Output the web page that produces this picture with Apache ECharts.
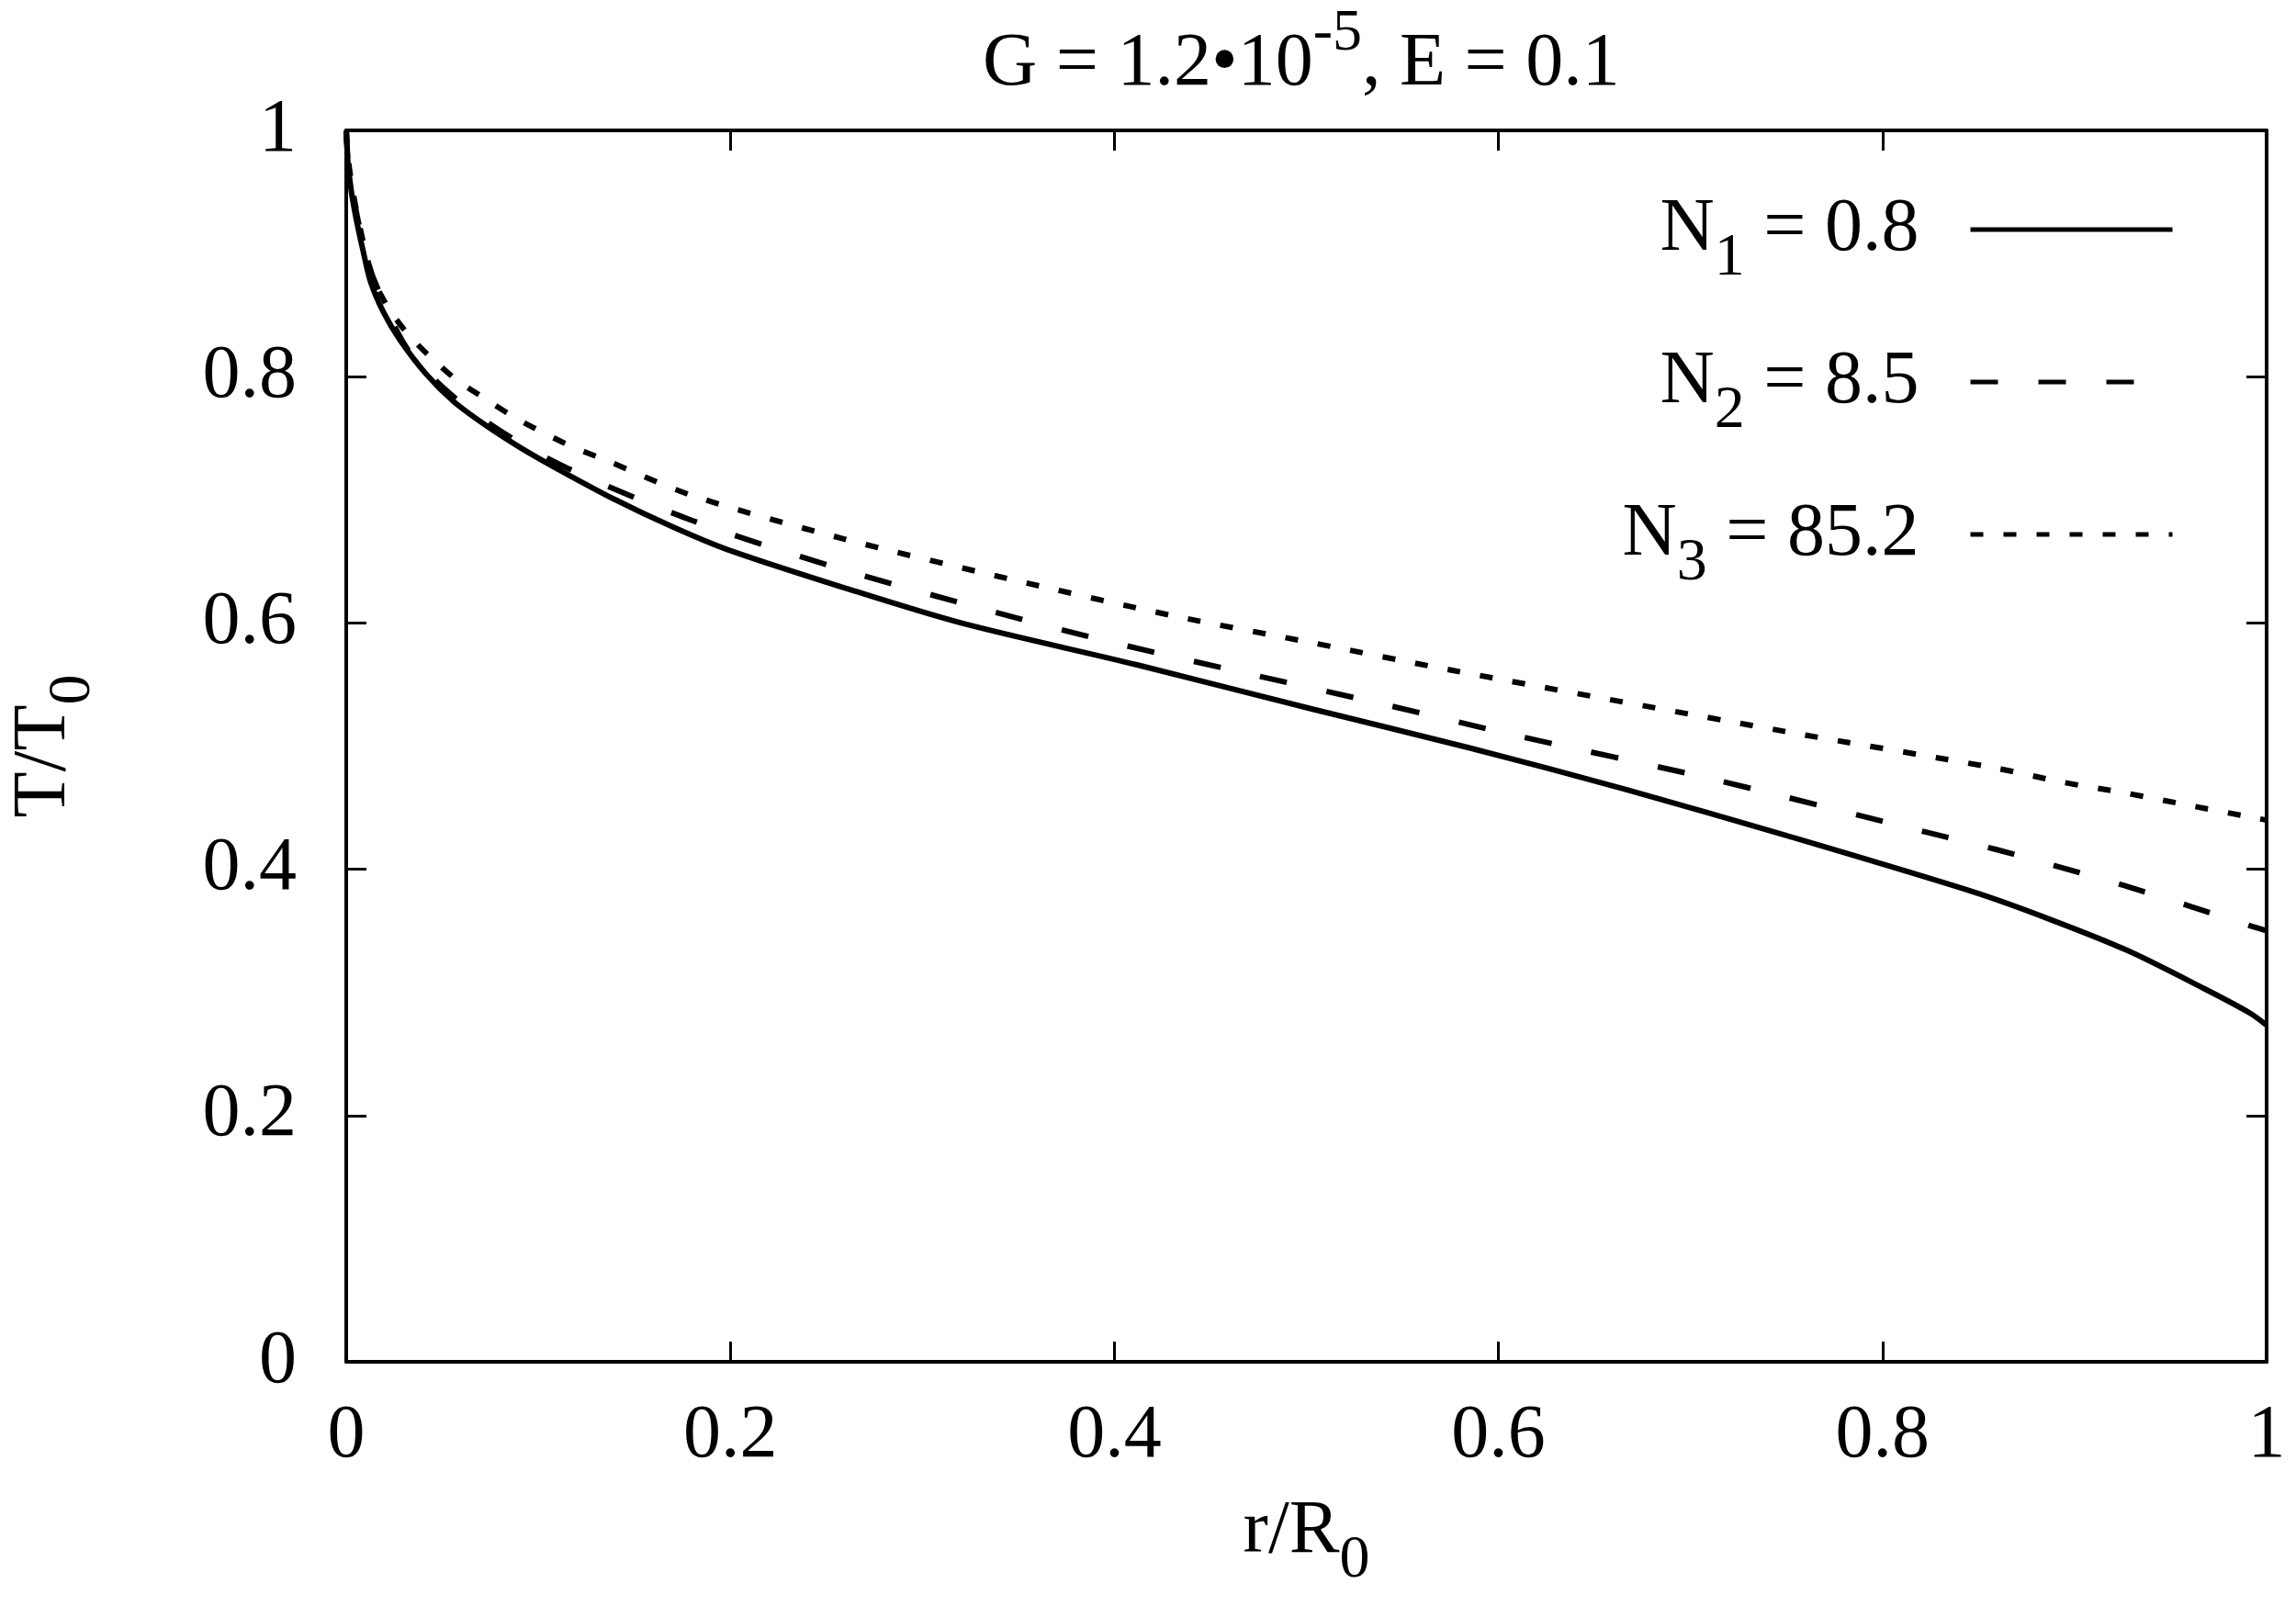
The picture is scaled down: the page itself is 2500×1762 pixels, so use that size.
<!DOCTYPE html>
<html><head><meta charset="utf-8">
<script src="https://cdn.jsdelivr.net/npm/echarts@6/dist/echarts.min.js"></script>
<style>html,body{margin:0;padding:0;background:#fff}#c{width:2500px;height:1762px}</style>
</head><body><div id="c"></div>
<script>
// ---- data ----
const xTickLabels = ['0', '0.2', '0.4', '0.6', '0.8', '1'];
const yTickLabels = ['0', '0.2', '0.4', '0.6', '0.8', '1'];

const n1R = [0, 0.0008, 0.0016, 0.0032, 0.0056, 0.0088, 0.0127, 0.0195, 0.0279, 0.0414, 0.0558, 0.0717, 0.0900, 0.1084, 0.1402, 0.1700, 0.1983, 0.2593, 0.3202, 0.4118, 0.5032, 0.585, 0.667, 0.7495, 0.8478, 0.8877, 0.9275, 0.9674, 0.9913, 1.0];
const n1T = [1.0, 0.975, 0.963, 0.945, 0.925, 0.902, 0.877, 0.852, 0.830, 0.8025, 0.780, 0.7615, 0.743, 0.7265, 0.700, 0.678, 0.6597, 0.6286, 0.600, 0.566, 0.530, 0.4985, 0.4645, 0.4275, 0.3813, 0.359, 0.334, 0.3031, 0.2832, 0.2733];

const n2R = [0, 0.0008, 0.0016, 0.0035, 0.0088, 0.0143, 0.0319, 0.0566, 0.0853, 0.1155, 0.180, 0.253, 0.326, 0.3934, 0.462, 0.540, 0.608, 0.711, 0.8236, 0.859, 0.8933, 0.9267, 0.960, 0.9929, 1.0];
const n2T = [1.0, 0.977, 0.966, 0.948, 0.908, 0.8795, 0.8224, 0.7827, 0.751, 0.7255, 0.6833, 0.646, 0.6137, 0.5863, 0.5615, 0.534, 0.509, 0.4733, 0.4298, 0.4161, 0.4013, 0.3863, 0.370, 0.3533, 0.350];

const n3R = [0, 0.0008, 0.003, 0.007, 0.01355, 0.0215, 0.0319, 0.0438, 0.0574, 0.0717, 0.0868, 0.102, 0.1179, 0.1339, 0.181, 0.259, 0.3445, 0.430, 0.503, 0.576, 0.7495, 0.8594, 0.8933, 0.9275, 0.9626, 0.996, 1.0];
const n3T = [1.0, 0.98, 0.955, 0.922, 0.882, 0.857, 0.835, 0.816, 0.7975, 0.7827, 0.7677, 0.755, 0.743, 0.733, 0.703, 0.6683, 0.636, 0.606, 0.5839, 0.5615, 0.5118, 0.482, 0.4708, 0.4616, 0.451, 0.441, 0.440];

const seriesNames = ['N1 = 0.8', 'N2 = 8.5', 'N3 = 85.2'];
const legendSub = ['1', '2', '3'];
const legendVal = [' = 0.8', ' = 8.5', ' = 85.2'];

// ---- chart ----
const FONT = 'Liberation Serif';
const FS = 82;
const zip = (a, b) => a.map((v, i) => [v, b[i]]);

const chart = echarts.init(document.getElementById('c'));

const axisCommon = {
  type: 'value', min: 0, max: 1, interval: 0.2,
  axisLine: { show: true, onZero: false, lineStyle: { color: '#000', width: 4 } },
  axisTick: { show: true, inside: true, length: 22, lineStyle: { color: '#000', width: 3 } },
  splitLine: { show: false }
};

const richMain = { fontFamily: FONT, fontSize: FS, fontWeight: 'normal', color: '#000', lineHeight: 130, verticalAlign: 'middle' };
const richSub = { fontFamily: FONT, fontSize: 66, fontWeight: 'normal', color: '#000', lineHeight: 80, verticalAlign: 'bottom' };

const option = {
  backgroundColor: '#fff',
  animation: false,
  title: {
    text: '{m|G = 1.2•10}{sup|-5}{m|, E = 0.1}',
    left: 1070,
    top: 5,
    padding: 0,
    textStyle: {
      fontWeight: 'normal',
      rich: {
        m: { fontFamily: FONT, fontSize: FS, fontWeight: 'normal', color: '#000', lineHeight: 130, verticalAlign: 'middle' },
        sup: { fontFamily: FONT, fontSize: 64, fontWeight: 'normal', color: '#000', lineHeight: 62, verticalAlign: 'top' }
      }
    }
  },
  grid: { left: 377, right: 32, top: 142, bottom: 279, containLabel: false, outerBoundsMode: 'none' },
  legend: {
    orient: 'vertical',
    right: 132,
    top: 209,
    padding: 0,
    align: 'right',
    itemWidth: 220,
    itemHeight: 2,
    itemGap: 60,
    data: seriesNames,
    itemStyle: { opacity: 0 },
    lineStyle: { width: 5, color: '#000' },
    formatter: function (name) {
      const i = seriesNames.indexOf(name);
      return '{m|N}{s|' + legendSub[i] + '}{v|' + legendVal[i] + '}';
    },
    textStyle: {
      rich: {
        m: richMain,
        s: richSub,
        v: Object.assign({}, richMain, { padding: [0, 51, 0, 0] })
      }
    }
  },
  xAxis: [
    Object.assign({}, axisCommon, {
      position: 'bottom',
      axisLabel: {
        show: true, margin: 40, fontFamily: FONT, fontSize: FS, color: '#000',
        formatter: v => xTickLabels[Math.round(v / 0.2)]
      },
      name: '{m|r/R}{s|0}',
      nameLocation: 'middle',
      nameGap: 120,
      nameTextStyle: { rich: { m: richMain, s: richSub } }
    }),
    Object.assign({}, axisCommon, { position: 'top', axisLabel: { show: false } })
  ],
  yAxis: [
    Object.assign({}, axisCommon, {
      position: 'left',
      axisLabel: {
        show: true, margin: 54, fontFamily: FONT, fontSize: FS, color: '#000',
        formatter: v => yTickLabels[Math.round(v / 0.2)]
      },
      name: '{m|T/T}{s|0}',
      nameLocation: 'middle',
      nameRotate: 90,
      nameGap: 264,
      nameTextStyle: { rich: { m: richMain, s: richSub } }
    }),
    Object.assign({}, axisCommon, { position: 'right', axisLabel: { show: false } })
  ],
  series: [
    {
      name: seriesNames[0], type: 'line', data: zip(n1R, n1T),
      symbol: 'none', showSymbol: false, smooth: 0.3,
      lineStyle: { color: '#000', width: 6, type: 'solid' }, itemStyle: { color: '#000' }
    },
    {
      name: seriesNames[1], type: 'line', data: zip(n2R, n2T),
      symbol: 'none', showSymbol: false, smooth: 0.3,
      lineStyle: { color: '#000', width: 6, type: [30, 44] }, itemStyle: { color: '#000' }
    },
    {
      name: seriesNames[2], type: 'line', data: zip(n3R, n3T),
      symbol: 'none', showSymbol: false, smooth: 0.3,
      lineStyle: { color: '#000', width: 6, type: [14, 22] }, itemStyle: { color: '#000' }
    }
  ]
};
chart.setOption(option);
</script>
</body></html>
